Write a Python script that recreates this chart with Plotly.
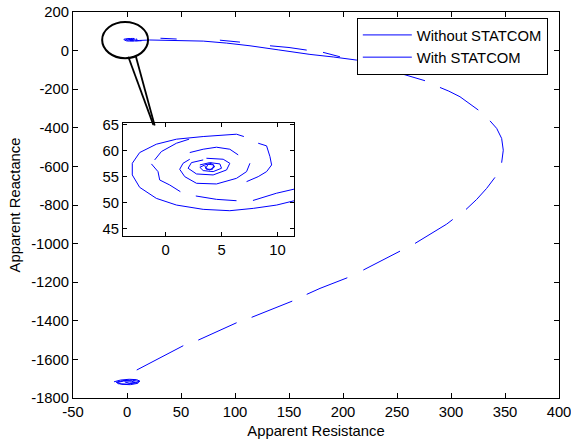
import plotly.graph_objects as go

# Impedance trajectory without STATCOM (apparent resistance, apparent reactance).
# None marks a break between recorded segments.
res_without = [7.8, 9.9, 11.5, 21, 45, 70.6, 92, 113.9, 140, 169.4, 191, 212.7, 237.3, 255.9, 275.9, None,
               289.8, 298, 308.3, 325.3, None,
               336.1, 342.3, 346.9, 348.4, 346.9, None,
               340.7, 333, 323.8, 313.9, None,
               301.6, 296, 266.7, None,
               252.8, 218.8, None,
               204, 178.7, 166.4, None,
               153, 115.4, None,
               101.5, 66, None,
               52.1, 30.6, 9, None,
               -12, -6, 2, 9, 12, 8, 0, -8, -10, -4, 5, 11, 10, 3, -5, -9, -3, 4, 8, 2, -2]
react_without = [50.4, 51.8, 52.6, 55, 54, 49.2, 39, 24.9, 4, -19.7, -33, -49.2, -92, -122, -156, None,
                 -191, -210, -239, -308, None,
                 -364, -403, -455, -516, -581, None,
                 -657, -714, -771, -823, None,
                 -875, -899, -999, None,
                 -1039, -1137, None,
                 -1177, -1232, -1263, None,
                 -1298, -1382, None,
                 -1410, -1500, None,
                 -1529, -1590, -1655, None,
                 -1716, -1707, -1703, -1705, -1713, -1722, -1728, -1726, -1718, -1710, -1708, -1714,
                 -1724, -1731, -1729, -1720, -1712, -1713, -1719, -1723, -1717]

# Impedance trajectory with STATCOM: spiral around the operating point plus outward strokes
res_with = [13.5, 11.5, 9.92, 7.83, 5.73, 3.35, 0.96, -0.84, -2.33, -2.99, -2.99, -2.33, -0.84, 0.96, 3.35, 5.14, 6.33, 6.99, None,
            8.27, 9.02, 9.32, 9.47, 9.02, 8.27, 7.23, None,
            2.69, 4.54, 6.33, None,
            -1.28, -0.69, -0.54, 0.36, 1.31, None,
            -0.99, -0.39, 0.96, 2.09, None,
            2.15, 3.35, 4.54, 5.73, 6.48, None,
            7.53, 7.23, 6.33, 4.54, 2.75, 1.70, 1.25, 1.55, 2.15, None,
            3.64, 5.14, 5.73, 5.44, 4.24, 2.75, 2.0, 2.3, 3.35, None,
            3.05, 3.94, 4.84, 4.99, 4.24, 3.35, 3.05, 3.5, 4.09, 4.39, 3.94, 3.58, 3.79, 4.3, 4.18, 3.64, 3.5, None,
            31, 46, None, 86, 104.6, None, 132.4, 150, 166.4, None, 181.5, 197.2, None, 296, 354.6]
react_with = [51.0, 50.36, 49.52, 48.88, 48.43, 48.69, 49.52, 50.81, 52.94, 55.33, 57.58, 59.65, 61.26, 62.23, 62.74, 63.0, 63.19, 62.74, None,
              61.45, 60.94, 58.87, 57.26, 55.97, 55.0, 54.04, None,
              51.27, 50.62, 50.36, None,
              57.46, 55.97, 54.36, 53.39, 52.1, None,
              58.23, 59.84, 61.45, 62.23, None,
              59.65, 60.29, 60.68, 60.29, 59.2, None,
              57.58, 55.97, 54.68, 53.59, 53.72, 55.0, 56.42, 57.58, 58.36, None,
              58.55, 58.36, 57.58, 56.29, 55.33, 55.52, 56.62, 57.71, 58.23, None,
              57.26, 57.71, 57.46, 56.62, 55.97, 56.17, 56.81, 57.26, 57.58, 56.94, 56.29, 56.62, 57.39, 57.26, 56.42, 56.42, 57.07, None,
              64, 60, None, 54, 44, None, 25, 16, 2.6, None, -9, -32, None, -90, -90]

x_ticks = [-50, 0, 50, 100, 150, 200, 250, 300, 350, 400]
y_ticks = [-1800, -1600, -1400, -1200, -1000, -800, -600, -400, -200, 0, 200]
inset_x_ticks = [0, 5, 10]
inset_y_ticks = [45, 50, 55, 60, 65]

FONT = dict(family="Liberation Sans, Arial, sans-serif", size=14.8, color="black")
BLUE = "#0000ff"

fig = go.Figure()

for xa, ya, show in (("x", "y", True), ("x2", "y2", False)):
    fig.add_trace(go.Scatter(x=res_without, y=react_without, mode="lines", name="Without STATCOM",
                             line=dict(color=BLUE, width=1), connectgaps=False,
                             xaxis=xa, yaxis=ya, showlegend=show))
    fig.add_trace(go.Scatter(x=res_with, y=react_with, mode="lines", name="With STATCOM",
                             line=dict(color=BLUE, width=1), connectgaps=False,
                             xaxis=xa, yaxis=ya, showlegend=show))

axis_common = dict(showline=True, linecolor="black", linewidth=1, mirror="ticks",
                   ticks="inside", tickcolor="black", showgrid=False, zeroline=False,
                   tickfont=FONT, automargin=False, ticklabeloverflow="allow")

fig.update_layout(
    template="none",
    width=571, height=445,
    margin=dict(l=73, r=12, t=12, b=47),
    paper_bgcolor="white", plot_bgcolor="white",
    font=FONT,
    xaxis=dict(range=[-50, 400], tickvals=x_ticks, ticktext=[str(v) for v in x_ticks],
               ticklen=5, title=dict(text="Apparent Resistance", font=FONT, standoff=6),
               **axis_common),
    yaxis=dict(range=[-1800, 200], tickvals=y_ticks, ticktext=[str(v) for v in y_ticks],
               ticklen=5, title=dict(text="Apparent Reactance", font=FONT, standoff=7),
               **axis_common),
    xaxis2=dict(domain=[0.1029, 0.4547], anchor="y2", range=[-3.82, 11.47],
                tickvals=inset_x_ticks, ticktext=[str(v) for v in inset_x_ticks],
                ticklen=4, **axis_common),
    yaxis2=dict(domain=[0.4197, 0.7124], anchor="x2", range=[43.55, 65.35],
                tickvals=inset_y_ticks, ticktext=[str(v) for v in inset_y_ticks],
                ticklen=4, **axis_common),
    legend=dict(x=0.584, y=0.985, xanchor="left", yanchor="top",
                bgcolor="white", bordercolor="black", borderwidth=1,
                font=FONT, itemwidth=49, tracegroupgap=0),
    shapes=[
        # callout ellipse around the operating point and pointer to the zoomed view
        dict(type="circle", xref="x", yref="y", x0=-23, x1=19.5, y0=-39, y1=148,
             line=dict(color="black", width=2)),
        dict(type="line", xref="x", yref="y", x0=1.2, y0=-32, x1=24.4, y1=-385,
             line=dict(color="black", width=1.8)),
        dict(type="line", xref="x", yref="y", x0=8.1, y0=-28.5, x1=25.6, y1=-388,
             line=dict(color="black", width=1.8)),
    ],
)

fig.write_html("out.html")
